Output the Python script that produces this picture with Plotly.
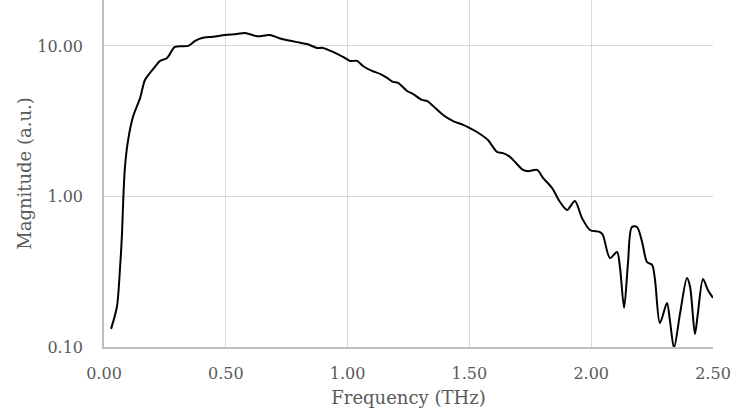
import plotly.graph_objects as go

freq = [0.029, 0.053, 0.066, 0.074, 0.079, 0.086, 0.099, 0.119, 0.148, 0.168,
        0.189, 0.209, 0.230, 0.259, 0.291, 0.345, 0.374, 0.402, 0.447, 0.497,
        0.546, 0.579, 0.628, 0.681, 0.731, 0.805, 0.833, 0.874, 0.899, 0.940,
        0.981, 1.010, 1.039, 1.063, 1.100, 1.133, 1.162, 1.186, 1.207, 1.244,
        1.268, 1.305, 1.326, 1.351, 1.392, 1.433, 1.474, 1.494, 1.531, 1.576,
        1.613, 1.638, 1.667, 1.720, 1.741, 1.778, 1.802, 1.839, 1.872, 1.901,
        1.933, 1.962, 1.995, 2.036, 2.048, 2.077, 2.106, 2.118, 2.135, 2.151,
        2.167, 2.188, 2.209, 2.229, 2.250, 2.262, 2.282, 2.311, 2.323, 2.340,
        2.365, 2.393, 2.406, 2.426, 2.438, 2.459, 2.479, 2.500]
magnitude = [0.132, 0.185, 0.34, 0.572, 0.948, 1.57, 2.37, 3.38, 4.5, 5.94,
             6.62, 7.25, 7.95, 8.32, 9.85, 10.0, 10.8, 11.3, 11.5, 11.8,
             12.0, 12.2, 11.6, 11.8, 11.1, 10.5, 10.3, 9.7, 9.7, 9.12,
             8.45, 7.95, 7.95, 7.36, 6.82, 6.52, 6.13, 5.77, 5.68, 5.02,
             4.80, 4.38, 4.31, 3.99, 3.48, 3.17, 2.99, 2.89, 2.68, 2.37,
             1.98, 1.94, 1.83, 1.50, 1.47, 1.50, 1.33, 1.14, 0.919, 0.813,
             0.933, 0.72, 0.599, 0.58, 0.555, 0.39, 0.428, 0.34, 0.182, 0.361,
             0.627, 0.627, 0.499, 0.367, 0.351, 0.279, 0.144, 0.196, 0.151, 0.0985,
             0.168, 0.287, 0.25, 0.122, 0.168, 0.283, 0.239, 0.212]

x_ticks = [0.0, 0.5, 1.0, 1.5, 2.0, 2.5]
x_ticklabels = ["0.00", "0.50", "1.00", "1.50", "2.00", "2.50"]
y_ticks = [0.1, 1, 10]
y_ticklabels = ["0.10", "1.00", "10.00"]

FONT = "DejaVu Serif"
TXT = "#595959"
GRID = "#d9d9d9"

fig = go.Figure()
fig.add_trace(go.Scatter(
    x=freq, y=magnitude, mode="lines",
    line=dict(color="#000000", width=2, shape="spline", smoothing=0.8),
    showlegend=False,
))

fig.update_layout(
    width=734, height=420,
    margin=dict(l=104, r=21, t=0, b=73),
    paper_bgcolor="white", plot_bgcolor="white",
    font=dict(family=FONT, size=15, color=TXT),
    xaxis=dict(
        range=[0, 2.5], tickvals=x_ticks, ticktext=x_ticklabels,
        showgrid=True, gridcolor=GRID, gridwidth=1,
        showline=True, linecolor="#bfbfbf", linewidth=1.5,
        ticks="outside", ticklen=11, tickcolor="rgba(0,0,0,0)", zeroline=False,
        title=dict(text="Frequency (THz)", standoff=9, font=dict(size=18)),
        tickfont=dict(size=16),
    ),
    yaxis=dict(
        type="log", range=[-1, 1.305], tickvals=y_ticks, ticktext=y_ticklabels,
        showgrid=True, gridcolor=GRID, gridwidth=1,
        showline=True, linecolor="#bfbfbf", linewidth=1.5,
        ticks="outside", ticklen=16, tickcolor="rgba(0,0,0,0)", zeroline=False,
        title=dict(text="Magnitude (a.u.)", standoff=1, font=dict(size=18)),
        tickfont=dict(size=16),
    ),
)

fig.write_html("out.html")
